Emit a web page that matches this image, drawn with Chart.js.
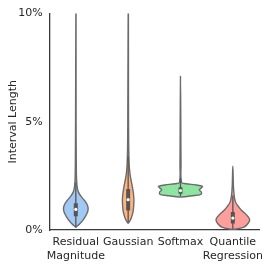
<!DOCTYPE html>
<html>
<head>
<meta charset="utf-8">
<script src="https://cdn.jsdelivr.net/npm/chart.js@4/dist/chart.umd.min.js"></script>
<style>
  body { margin: 0; background: #fff; }
  #wrap { width: 266px; height: 264px; }
</style>
</head>
<body>
<div id="wrap"><canvas id="myChart"></canvas></div>
<script>
const categories = [['Residual', 'Magnitude'], 'Gaussian', 'Softmax', ['Quantile', 'Regression']]
const colors = ['#a1c9f4', '#ffb482', '#8de5a1', '#ff9f9b']
const yTicks = [0, 5, 10]

// violin outlines: interval length (%) and half width (in category units)
const residualY = [0.12, 0.3, 0.5, 0.75, 0.95, 1.15, 1.35, 1.55, 1.75, 2.0, 2.5, 3.5, 5, 12]
const residualW = [0, 0.08, 0.15, 0.21, 0.235, 0.22, 0.17, 0.1, 0.05, 0.025, 0.012, 0.008, 0.005, 0.004]
const gaussianY = [0.3, 0.5, 0.8, 1.1, 1.4, 1.7, 2.0, 2.3, 2.6, 3.0, 4.0, 6, 12]
const gaussianW = [0, 0.05, 0.09, 0.105, 0.11, 0.1, 0.08, 0.055, 0.035, 0.02, 0.01, 0.006, 0.004]
const softmaxY = [1.52, 1.58, 1.65, 1.75, 1.85, 1.95, 2.02, 2.08, 2.14, 2.2, 3, 5, 7.1]
const softmaxW = [0, 0.22, 0.39, 0.4, 0.36, 0.4, 0.42, 0.3, 0.1, 0.02, 0.01, 0.006, 0]
const quantileY = [0.02, 0.12, 0.3, 0.5, 0.7, 0.9, 1.1, 1.3, 1.6, 2.0, 2.4, 2.95]
const quantileW = [0, 0.2, 0.29, 0.32, 0.26, 0.17, 0.1, 0.05, 0.025, 0.012, 0.007, 0]

// inner box: whisker low, q1, median, q3, whisker high
const whiskerLo = [0.15, 0.35, 1.55, 0.05]
const q1 = [0.64, 0.9, 1.67, 0.3]
const median = [0.95, 1.4, 1.82, 0.55]
const q3 = [1.24, 1.9, 1.97, 0.83]
const whiskerHi = [2.2, 3.4, 2.4, 1.6]

const profiles = [
  [residualY, residualW],
  [gaussianY, gaussianW],
  [softmaxY, softmaxW],
  [quantileY, quantileW]
]

function outline (c, ys, ws) {
  const pts = []
  for (let i = 0; i < ys.length; i++) pts.push({ x: c + ws[i], y: ys[i] })
  for (let i = ys.length - 2; i >= 0; i--) pts.push({ x: c - ws[i], y: ys[i] })
  return pts
}

const edge = '#6b6b6b'
const datasets = []

profiles.forEach(([ys, ws], i) => {
  datasets.push({
    type: 'line',
    data: outline(i, ys, ws),
    backgroundColor: colors[i],
    borderColor: edge,
    borderWidth: 1.4,
    pointRadius: 0,
    tension: 0.35,
    fill: 'shape',
    order: 3
  })
  datasets.push({
    type: 'line',
    data: [{ x: i, y: whiskerLo[i] }, { x: i, y: whiskerHi[i] }],
    borderColor: '#555',
    borderWidth: 1.3,
    pointRadius: 0,
    fill: false,
    order: 2
  })
  datasets.push({
    type: 'line',
    data: [{ x: i, y: q1[i] }, { x: i, y: q3[i] }],
    borderColor: '#555',
    borderWidth: 4,
    pointRadius: 0,
    fill: false,
    order: 1
  })
})
datasets.push({
  type: 'scatter',
  data: median.map((m, i) => ({ x: i, y: m })),
  backgroundColor: '#fff',
  borderWidth: 0,
  pointRadius: 1.6,
  order: 0
})

Chart.defaults.font.family = 'DejaVu Sans'
Chart.defaults.font.size = 11
Chart.defaults.color = '#262626'

const config = {
  type: 'line',
  data: { datasets },
  options: {
    responsive: true,
    maintainAspectRatio: false,
    animation: false,
    layout: { padding: { top: 5, right: 0, left: 0, bottom: 0 } },
    plugins: { legend: { display: false }, tooltip: { enabled: false } },
    scales: {
      x: {
        type: 'linear',
        min: -0.5,
        max: 3.5,
        grid: { display: false, drawTicks: false },
        border: { color: '#3a3a3a', width: 1.3 },
        afterBuildTicks: axis => { axis.ticks = categories.map((_, i) => ({ value: i })) },
        afterFit: axis => {
          axis.height = 34
          axis.paddingRight = 7
        },
        ticks: {
          padding: 6,
          maxRotation: 0,
          autoSkip: false,
          callback: v => categories[v]
        }
      },
      y: {
        min: 0,
        max: 10,
        grid: { display: false, drawTicks: false },
        border: { color: '#3a3a3a', width: 1.3 },
        afterBuildTicks: axis => { axis.ticks = yTicks.map(v => ({ value: v })) },
        ticks: {
          padding: 7,
          callback: v => v + '%'
        },
        title: { display: true, text: 'Interval Length', padding: { top: 7, bottom: -9 } }
      }
    }
  }
}

var myChart = new Chart(document.getElementById('myChart'), config)
</script>
</body>
</html>
